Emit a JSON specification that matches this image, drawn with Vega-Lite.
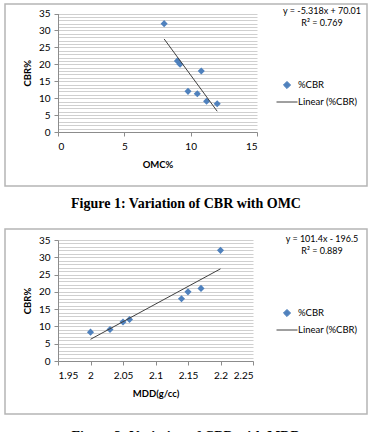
{
  "$schema": "https://vega.github.io/schema/vega-lite/v6.json",
  "padding": {"left": 4, "top": 3, "right": 0, "bottom": 0},
  "autosize": {"type": "pad"},
  "background": "white",
  "datasets": {
    "soil": [
      {"omc": 8.0, "mdd": 2.20, "cbr": 32.0},
      {"omc": 9.0, "mdd": 2.17, "cbr": 21.0},
      {"omc": 9.2, "mdd": 2.15, "cbr": 20.0},
      {"omc": 10.8, "mdd": 2.14, "cbr": 18.0},
      {"omc": 9.8, "mdd": 2.06, "cbr": 12.0},
      {"omc": 10.5, "mdd": 2.05, "cbr": 11.3},
      {"omc": 11.2, "mdd": 2.03, "cbr": 9.1},
      {"omc": 12.0, "mdd": 2.00, "cbr": 8.35}
    ]
  },
  "config": {
    "font": "Lato",
    "view": {"stroke": "#b5b5b5", "strokeWidth": 1.5},
    "axis": {
      "labelFont": "Lato",
      "labelFontSize": 10,
      "labelColor": "#000000",
      "titleFont": "Lato",
      "titleFontSize": 9.5,
      "titleFontWeight": "bold",
      "titleColor": "#000000",
      "domainColor": "#8c8c8c",
      "tickColor": "#8c8c8c",
      "tickSize": 4,
      "gridColor": "#cfcfcf",
      "gridWidth": 1
    },
    "legend": {
      "labelFont": "Lato",
      "labelFontSize": 9.5,
      "labelColor": "#000000"
    }
  },
  "spacing": 17,
  "resolve": {"scale": {"color": "independent"}, "legend": {"color": "independent"}},
  "vconcat": [
    {
      "title": {"text": "Figure 1: Variation of CBR with OMC", "orient": "bottom", "anchor": "middle", "font": "Liberation Serif", "fontSize": 14, "fontWeight": "bold", "color": "#000000", "offset": 10},
      "resolve": {"scale": {"color": "independent"}, "legend": {"color": "independent"}},
      "vconcat": [
        {
          "width": 362,
          "height": 182,
          "title": {"text": ["y = -5.318x + 70.01", "R² = 0.769"], "orient": "top", "anchor": "end", "align": "center", "frame": "group", "dx": -45, "offset": -24, "font": "Lato", "fontSize": 9, "fontWeight": "normal", "lineHeight": 12.5, "color": "#000000"},
          "data": {"name": "soil"},
          "layer": [
            {
              "mark": {"type": "point", "shape": "diamond", "filled": true, "size": 50, "opacity": 1},
              "encoding": {
                "x": {"field": "omc", "type": "quantitative",
                  "scale": {"domain": [0, 15], "range": [53, 252], "nice": false, "zero": false},
                  "axis": {"values": [0, 5, 10, 15], "offset": -54, "grid": false, "labelPadding": 5, "title": "OMC%", "titlePadding": 8}},
                "y": {"field": "cbr", "type": "quantitative",
                  "scale": {"domain": [0, 35], "range": [128, 9.5], "nice": false},
                  "axis": {"values": [0,1,2,3,4,5,6,7,8,9,10,11,12,13,14,15,16,17,18,19,20,21,22,23,24,25,26,27,28,29,30,31,32,33,34,35],
                    "tickCount": 100, "labelOverlap": false, "format": "d",
                    "offset": -53, "grid": true, "labelPadding": 4,
                    "labelExpr": "datum.value % 5 === 0 ? datum.label : ''",
                    "tickOpacity": {"condition": {"test": "datum.value % 5 === 0", "value": 1}, "value": 0},
                    "title": "CBR%", "titlePadding": 6}},
                "color": {"datum": "%CBR", "type": "nominal",
                  "scale": {"domain": ["%CBR", "Linear (%CBR)"], "range": ["#4F81BD", "#404040"]},
                  "legend": {"orient": "none", "legendX": 271, "legendY": 70, "title": null, "symbolSize": 441, "labelOffset": 0, "rowPadding": -4,
                    "encode": {"symbols": {"update": {
                      "shape": {"signal": "datum.value === '%CBR' ? 'M0,-0.34L0.34,0L0,0.34L-0.34,0Z' : 'M-1,0L1,0'"},
                      "fill": {"signal": "datum.value === '%CBR' ? '#4F81BD' : 'transparent'"},
                      "stroke": {"signal": "datum.value === '%CBR' ? '#4F81BD' : '#404040'"},
                      "strokeWidth": {"value": 1},
                      "opacity": {"value": 1}
                    }}}}}
              }
            },
            {
              "transform": [{"regression": "cbr", "on": "omc"}],
              "mark": {"type": "line", "strokeWidth": 1},
              "encoding": {
                "x": {"field": "omc", "type": "quantitative"},
                "y": {"field": "cbr", "type": "quantitative"},
                "color": {"datum": "Linear (%CBR)", "type": "nominal",
                  "legend": {"orient": "none", "legendX": 271, "legendY": 70, "title": null, "symbolSize": 441, "labelOffset": 0, "rowPadding": -4,
                    "encode": {"symbols": {"update": {
                      "shape": {"signal": "datum.value === '%CBR' ? 'M0,-0.34L0.34,0L0,0.34L-0.34,0Z' : 'M-1,0L1,0'"},
                      "fill": {"signal": "datum.value === '%CBR' ? '#4F81BD' : 'transparent'"},
                      "stroke": {"signal": "datum.value === '%CBR' ? '#4F81BD' : '#404040'"},
                      "strokeWidth": {"value": 1},
                      "opacity": {"value": 1}
                    }}}}}
              }
            }
          ]
        }
      ]
    },
    {
      "title": {"text": "Figure 2: Variation of CBR with MDD", "orient": "bottom", "anchor": "middle", "font": "Liberation Serif", "fontSize": 14, "fontWeight": "bold", "color": "#000000", "offset": 15},
      "resolve": {"scale": {"color": "independent"}, "legend": {"color": "independent"}},
      "vconcat": [
        {
          "width": 362,
          "height": 185,
          "title": {"text": ["y = 101.4x - 196.5", "R² = 0.889"], "orient": "top", "anchor": "end", "align": "center", "frame": "group", "dx": -45, "offset": -27, "font": "Lato", "fontSize": 9, "fontWeight": "normal", "lineHeight": 12.5, "color": "#000000"},
          "data": {"name": "soil"},
          "layer": [
            {
              "mark": {"type": "point", "shape": "diamond", "filled": true, "size": 50, "opacity": 1},
              "encoding": {
                "x": {"field": "mdd", "type": "quantitative",
                  "scale": {"domain": [1.95, 2.25], "range": [53, 248], "nice": false, "zero": false},
                  "axis": {"values": [1.95, 2, 2.05, 2.1, 2.15, 2.2, 2.25], "format": ".2~f", "tickCount": 100, "labelOverlap": false, "offset": -53, "grid": false, "labelPadding": 5, "title": "MDD(g/cc)", "titlePadding": 8}},
                "y": {"field": "cbr", "type": "quantitative",
                  "scale": {"domain": [0, 35], "range": [132, 11], "nice": false},
                  "axis": {"values": [0,1,2,3,4,5,6,7,8,9,10,11,12,13,14,15,16,17,18,19,20,21,22,23,24,25,26,27,28,29,30,31,32,33,34,35],
                    "tickCount": 100, "labelOverlap": false, "format": "d",
                    "offset": -53, "grid": true, "labelPadding": 4,
                    "labelExpr": "datum.value % 5 === 0 ? datum.label : ''",
                    "tickOpacity": {"condition": {"test": "datum.value % 5 === 0", "value": 1}, "value": 0},
                    "title": "CBR%", "titlePadding": 6}},
                "color": {"datum": "%CBR", "type": "nominal",
                  "scale": {"domain": ["%CBR", "Linear (%CBR)"], "range": ["#4F81BD", "#404040"]},
                  "legend": {"orient": "none", "legendX": 271, "legendY": 73, "title": null, "symbolSize": 441, "labelOffset": 0, "rowPadding": -4,
                    "encode": {"symbols": {"update": {
                      "shape": {"signal": "datum.value === '%CBR' ? 'M0,-0.34L0.34,0L0,0.34L-0.34,0Z' : 'M-1,0L1,0'"},
                      "fill": {"signal": "datum.value === '%CBR' ? '#4F81BD' : 'transparent'"},
                      "stroke": {"signal": "datum.value === '%CBR' ? '#4F81BD' : '#404040'"},
                      "strokeWidth": {"value": 1},
                      "opacity": {"value": 1}
                    }}}}}
              }
            },
            {
              "transform": [{"regression": "cbr", "on": "mdd"}],
              "mark": {"type": "line", "strokeWidth": 1},
              "encoding": {
                "x": {"field": "mdd", "type": "quantitative"},
                "y": {"field": "cbr", "type": "quantitative"},
                "color": {"datum": "Linear (%CBR)", "type": "nominal",
                  "legend": {"orient": "none", "legendX": 271, "legendY": 73, "title": null, "symbolSize": 441, "labelOffset": 0, "rowPadding": -4,
                    "encode": {"symbols": {"update": {
                      "shape": {"signal": "datum.value === '%CBR' ? 'M0,-0.34L0.34,0L0,0.34L-0.34,0Z' : 'M-1,0L1,0'"},
                      "fill": {"signal": "datum.value === '%CBR' ? '#4F81BD' : 'transparent'"},
                      "stroke": {"signal": "datum.value === '%CBR' ? '#4F81BD' : '#404040'"},
                      "strokeWidth": {"value": 1},
                      "opacity": {"value": 1}
                    }}}}}
              }
            }
          ]
        }
      ]
    }
  ]
}
